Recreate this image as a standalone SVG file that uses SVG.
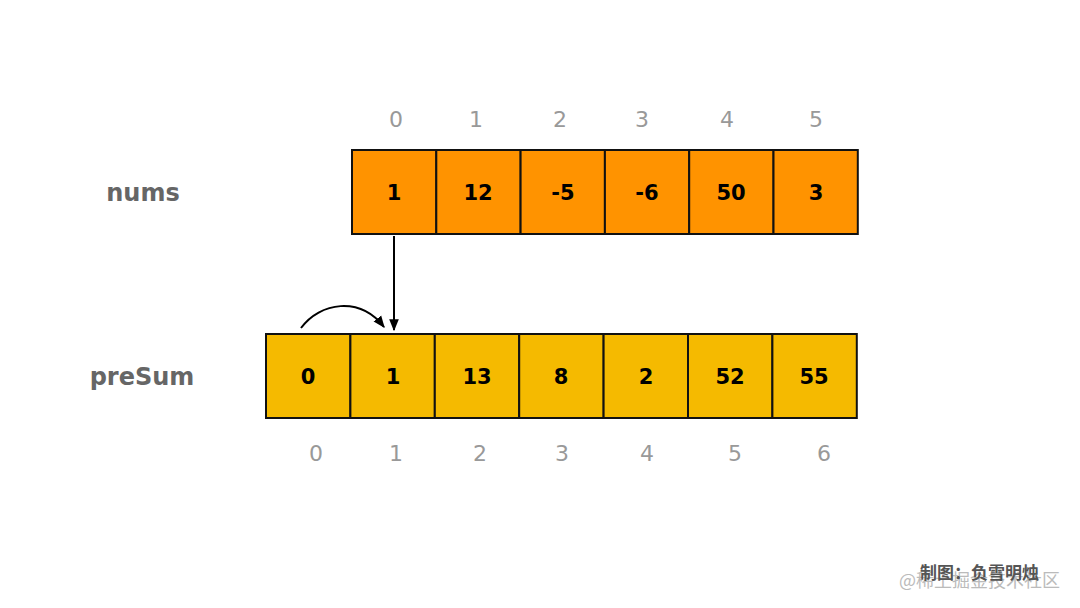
<svg xmlns="http://www.w3.org/2000/svg" width="1080" height="608" viewBox="0 0 1080 608">
<style>
.cell{stroke:#111;stroke-width:2}
.a{fill:#FF9300}
.b{fill:#F5BA00}
.v{font-family:"DejaVu Sans",sans-serif;font-weight:bold;font-size:21px;fill:#000;text-anchor:middle}
.i{font-family:"DejaVu Sans",sans-serif;font-size:22px;fill:#999;text-anchor:middle}
.lbl{font-family:"DejaVu Sans",sans-serif;font-weight:bold;font-size:24px;fill:#666;text-anchor:middle}
.wm1{font-family:"Noto Sans CJK SC",sans-serif;font-size:18px;fill:#bbb}
.wm2{font-family:"Noto Sans CJK SC",sans-serif;font-weight:bold;font-size:17px;fill:#555}
.ln{stroke:#000;stroke-width:2;fill:none}
</style>
<defs>
<marker id="ah" viewBox="0 0 10 10" refX="9" refY="5" markerWidth="6" markerHeight="6" orient="auto" markerUnits="strokeWidth">
<path d="M0,1 L10,5 L0,9 z" fill="#000"/>
</marker>
</defs>
<rect width="1080" height="608" fill="#fff"/>
<text class="lbl" x="143" y="201">nums</text>
<text class="lbl" x="142" y="385">preSum</text>
<g id="nums">
<rect class="cell a" x="352" y="150" width="84.3" height="84"/>
<rect class="cell a" x="436.3" y="150" width="84.3" height="84"/>
<rect class="cell a" x="520.6" y="150" width="84.3" height="84"/>
<rect class="cell a" x="604.9" y="150" width="84.3" height="84"/>
<rect class="cell a" x="689.2" y="150" width="84.3" height="84"/>
<rect class="cell a" x="773.5" y="150" width="84.3" height="84"/>
<text class="v" x="394" y="200">1</text>
<text class="v" x="478" y="200">12</text>
<text class="v" x="563" y="200">-5</text>
<text class="v" x="647" y="200">-6</text>
<text class="v" x="731" y="200">50</text>
<text class="v" x="816" y="200">3</text>
<text class="i" x="396" y="127">0</text>
<text class="i" x="476" y="127">1</text>
<text class="i" x="560" y="127">2</text>
<text class="i" x="642" y="127">3</text>
<text class="i" x="727" y="127">4</text>
<text class="i" x="816" y="127">5</text>
</g>
<g id="preSum">
<rect class="cell b" x="266" y="334" width="84.4" height="84"/>
<rect class="cell b" x="350.4" y="334" width="84.4" height="84"/>
<rect class="cell b" x="434.8" y="334" width="84.4" height="84"/>
<rect class="cell b" x="519.2" y="334" width="84.4" height="84"/>
<rect class="cell b" x="603.6" y="334" width="84.4" height="84"/>
<rect class="cell b" x="688" y="334" width="84.4" height="84"/>
<rect class="cell b" x="772.4" y="334" width="84.4" height="84"/>
<text class="v" x="308" y="384">0</text>
<text class="v" x="393" y="384">1</text>
<text class="v" x="477" y="384">13</text>
<text class="v" x="561" y="384">8</text>
<text class="v" x="646" y="384">2</text>
<text class="v" x="730" y="384">52</text>
<text class="v" x="814" y="384">55</text>
<text class="i" x="316" y="461">0</text>
<text class="i" x="396" y="461">1</text>
<text class="i" x="480" y="461">2</text>
<text class="i" x="562" y="461">3</text>
<text class="i" x="647" y="461">4</text>
<text class="i" x="735" y="461">5</text>
<text class="i" x="824" y="461">6</text>
</g>
<g id="connectors">
<line class="ln" x1="394" y1="236" x2="394" y2="330" marker-end="url(#ah)"/>
<path class="ln" d="M301,328 C320,302 360,296 384,327" marker-end="url(#ah)"/>
</g>
<text class="wm1" x="899" y="587">@稀土掘金技术社区</text>
<text class="wm2" x="920" y="579">制图：负雪明烛</text>
</svg>
